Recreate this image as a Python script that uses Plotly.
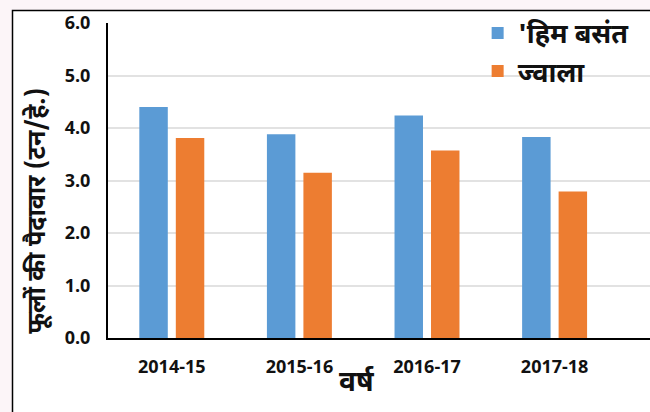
import plotly.graph_objects as go

years = ["2014-15", "2015-16", "2016-17", "2017-18"]
him_basant = [4.40, 3.88, 4.24, 3.83]
jwala = [3.81, 3.15, 3.57, 2.79]
series_names = ["'हिम बसंत", "ज्वाला"]
y_ticks = [0, 1, 2, 3, 4, 5, 6]
y_tick_text = ["0.0", "1.0", "2.0", "3.0", "4.0", "5.0", "6.0"]

BLUE = "#5B9BD5"
ORANGE = "#ED7D31"
NUM_FONT = "Open Sans, Liberation Sans, sans-serif"
DEV_FONT = "Noto Sans Devanagari, Noto Sans, Lohit Devanagari, Mangal, sans-serif"

fig = go.Figure()
fig.add_trace(go.Bar(x=years, y=him_basant, name=series_names[0],
                     marker=dict(color=BLUE, line=dict(width=0))))
fig.add_trace(go.Bar(x=years, y=jwala, name=series_names[1],
                     marker=dict(color=ORANGE, line=dict(width=0))))

W, H = 650, 412
L, T, B = 108, 23, 73.5
PW, PH = W - L, H - T - B

box_x0 = -(L - 12.5) / PW
box_y1 = 1 + (T - 10.5) / PH

fig.update_layout(
    width=W, height=H,
    margin=dict(l=L, r=0, t=T, b=B, pad=0),
    paper_bgcolor="#FCF5F8",
    plot_bgcolor="rgba(0,0,0,0)",
    barmode="group",
    bargap=0.428,
    bargroupgap=0.22,
    showlegend=True,
    legend=dict(
        x=0.682, y=1.045, xanchor="left", yanchor="top",
        bgcolor="rgba(255,255,255,0)",
        font=dict(family=DEV_FONT, size=27, color="#111111", weight="bold"),
        itemwidth=30, tracegroupgap=0,
    ),
    shapes=[
        dict(type="path", xref="paper", yref="paper",
             path=(f"M {box_x0},-0.3 L {box_x0},{box_y1} L 1.1,{box_y1} "
                   f"L 1.1,-0.3 Z"),
             line=dict(color="rgba(0,0,0,0)", width=0),
             fillcolor="white", layer="below"),
        dict(type="path", xref="paper", yref="paper",
             path=f"M {box_x0},-0.3 L {box_x0},{box_y1} L 1.1,{box_y1}",
             line=dict(color="black", width=1.5), fillcolor="rgba(0,0,0,0)",
             layer="below"),
    ],
    xaxis=dict(
        range=[-0.5, -0.5 + PW / 127.6],
        showline=True, linecolor="black", linewidth=2,
        ticks="outside", ticklen=11, tickcolor="rgba(0,0,0,0)",
        tickfont=dict(family=NUM_FONT, size=18, color="#111111", weight="bold"),
        showgrid=False, zeroline=False,
    ),
    yaxis=dict(
        range=[0, 6],
        tickvals=y_ticks, ticktext=y_tick_text,
        showline=True, linecolor="black", linewidth=2,
        ticks="outside", ticklen=12, tickcolor="rgba(0,0,0,0)",
        tickfont=dict(family=NUM_FONT, size=18, color="#111111", weight="bold"),
        showgrid=True, gridcolor="#E2E2E2", gridwidth=2,
        zeroline=False,
    ),
    annotations=[
        dict(text="वर्ष", xref="paper", yref="paper",
             x=(357 - L) / PW, y=-(384 - (H - B)) / PH,
             xanchor="center", yanchor="middle", showarrow=False,
             font=dict(family=DEV_FONT, size=28, color="#111111", weight="bold")),
        dict(text="फूलों की पैदावार (टन/हे.)", xref="paper", yref="paper",
             x=-(L - 39) / PW, y=(H - B - 211) / PH,
             xanchor="center", yanchor="middle", showarrow=False, textangle=-90,
             font=dict(family=DEV_FONT, size=25, color="#111111", weight="bold")),
    ],
)

fig.write_html(
    "out.html",
    config={"displayModeBar": False},
    post_script=(
        "document.documentElement.style.overflow='hidden';"
        "document.documentElement.style.margin='0';"
        "document.body.style.margin='0';document.body.style.padding='0';"
        "document.body.style.overflow='hidden';"
    ),
)
